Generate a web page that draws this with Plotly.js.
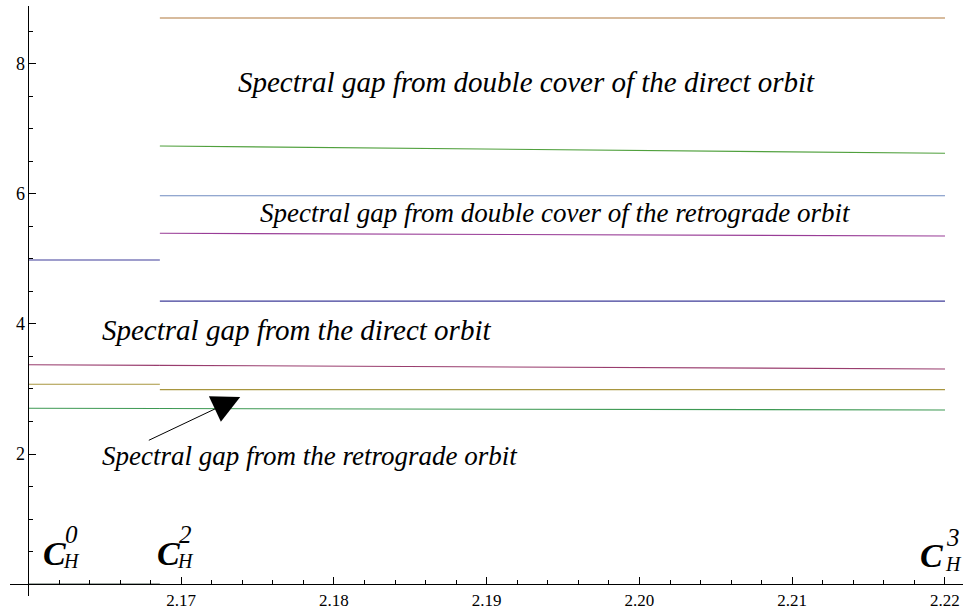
<!DOCTYPE html>
<html>
<head>
<meta charset="utf-8">
<script src="https://cdn.plot.ly/plotly-3.0.1.min.js"></script>
<style>html,body{margin:0;padding:0;background:#fff;}#chart{width:968px;height:614px;}</style>
</head>
<body>
<div id="chart"></div>
<script>
// Critical values C_H^0, C_H^2, C_H^3
const cH0 = 2.1600;
const cH2 = 2.1686;
const cH3 = 2.2200;

// Segment x-ranges
const xLeft = [cH0, cH2];
const xRight = [cH2, cH3];

// Left segment (C_H^0 .. C_H^2) values
const leftNavy = [4.985, 4.985];
const leftPink = [3.374, 3.364];
const leftOlive = [3.072, 3.072];
const leftGreen = [2.703, 2.699];
const leftZero = [0.0, 0.0];

// Right segment (C_H^2 .. C_H^3) values
const rightNavy = [4.352, 4.352];
const rightPink = [3.364, 3.308];
const rightOlive = [2.990, 2.990];
const rightGreen = [2.699, 2.677];
const rightBlue = [5.974, 5.974];
const rightPurple = [5.395, 5.354];
const rightBrown = [8.708, 8.708];
const rightGreen2 = [6.738, 6.626];

// Tick labels
const xTickVals = [2.17, 2.18, 2.19, 2.20, 2.21, 2.22];
const xTickText = ['2.17', '2.18', '2.19', '2.20', '2.21', '2.22'];
const yTickVals = [2, 4, 6, 8];
const yTickText = ['2', '4', '6', '8'];

const colors = {
  navy: '#3F3D99', pink: '#993D6E', olive: '#A8963F', green: '#3D9953',
  blue: '#6F8BC0', purple: '#993D97', brown: '#B0783C', green2: '#50A03D',
  zero: '#4A5A50'
};

function seg(x, y, c) {
  return {x: x, y: y, type: 'scatter', mode: 'lines', line: {color: c, width: 1.1}, hoverinfo: 'skip', showlegend: false};
}

const traces = [
  seg(xLeft, leftZero, colors.zero),
  seg(xLeft, leftNavy, colors.navy),
  seg(xLeft, leftPink, colors.pink),
  seg(xLeft, leftOlive, colors.olive),
  seg(xLeft, leftGreen, colors.green),
  seg(xRight, rightNavy, colors.navy),
  seg(xRight, rightPink, colors.pink),
  seg(xRight, rightOlive, colors.olive),
  seg(xRight, rightGreen, colors.green),
  seg(xRight, rightBlue, colors.blue),
  seg(xRight, rightPurple, colors.purple),
  seg(xRight, rightBrown, colors.brown),
  seg(xRight, rightGreen2, colors.green2)
];

const xMin = 2.15879, xMax = 2.22118;
const yMin = -0.1846, yMax = 8.892;

const serif = 'Liberation Serif, Times New Roman, serif';

function label(text, x, y, size) {
  return {x: x, y: y, xref: 'x', yref: 'y', text: '<i>' + text + '</i>', showarrow: false,
          xanchor: 'left', yanchor: 'middle', font: {family: serif, size: size, color: '#000'}};
}
function bigC(x, y) {
  return {x: x, y: y, xref: 'x', yref: 'y', text: '<b><i>C</i></b>', showarrow: false,
          xanchor: 'center', yanchor: 'middle', borderpad: 0, font: {family: serif, size: 34, color: '#000'}};
}
function supSub(sup, sub, x, y) {
  return {x: x, y: y, xref: 'x', yref: 'y', showarrow: false, align: 'center',
          text: "<i><span style='font-size:25px'>" + sup + "</span></i><br><i><span style='font-size:20px'>" + sub + "</span></i>",
          xanchor: 'center', yanchor: 'middle', borderpad: 0, font: {family: serif, size: 19, color: '#000'}};
}

const annotations = [
  label('Spectral gap from double cover of the direct orbit', 2.17360, 7.723, 29),
  label('Spectral gap from double cover of the retrograde orbit', 2.17504, 5.708, 27),
  label('Spectral gap from the direct orbit', 2.16470, 3.908, 29),
  label('Spectral gap from the retrograde orbit', 2.16470, 1.969, 27),
  {x: 2.17386, y: 2.877, ax: 2.16778, ay: 2.200, xref: 'x', yref: 'y', axref: 'x', ayref: 'y',
   text: '', showarrow: true, arrowhead: 2, arrowsize: 5.6, arrowwidth: 1, arrowcolor: '#000'},
  bigC(2.16168, 0.469), supSub('0', 'H', 2.16282, 0.58),
  bigC(2.16914, 0.469), supSub('2', 'H', 2.17028, 0.58),
  bigC(2.21910, 0.431), supSub('3', 'H', 2.22058, 0.53)
];

const layout = {
  width: 968, height: 614,
  margin: {l: 10, r: 5, t: 6, b: 18, pad: 0},
  paper_bgcolor: '#fff', plot_bgcolor: '#fff',
  showlegend: false,
  font: {family: serif, size: 16, color: '#000'},
  xaxis: {
    range: [xMin, xMax], anchor: 'free', position: (0 - yMin) / (yMax - yMin),
    showgrid: false, zeroline: false, showline: true, linecolor: '#000', linewidth: 1,
    tickmode: 'array', tickvals: xTickVals, ticktext: xTickText,
    ticks: 'inside', ticklen: 7, tickwidth: 1, tickcolor: '#000',
    ticklabelstandoff: 1,
    tickfont: {family: serif, size: 17, color: '#000'},
    minor: {tickmode: 'linear', tick0: 2.16, dtick: 0.002, ticks: 'inside', ticklen: 4, tickwidth: 1, tickcolor: '#000'}
  },
  yaxis: {
    range: [yMin, yMax], anchor: 'free', position: (cH0 - xMin) / (xMax - xMin),
    side: 'left', ticklabelposition: 'outside',
    showgrid: false, zeroline: false, showline: true, linecolor: '#000', linewidth: 1,
    tickmode: 'array', tickvals: yTickVals, ticktext: yTickText,
    ticks: 'inside', ticklen: 7, tickwidth: 1, tickcolor: '#000',
    tickfont: {family: serif, size: 18, color: '#000'},
    minor: {tickmode: 'linear', tick0: 0, dtick: 0.5, ticks: 'inside', ticklen: 4, tickwidth: 1, tickcolor: '#000'}
  },
  annotations: annotations
};

Plotly.newPlot('chart', traces, layout, {staticPlot: true, displayModeBar: false});
</script>
</body>
</html>
